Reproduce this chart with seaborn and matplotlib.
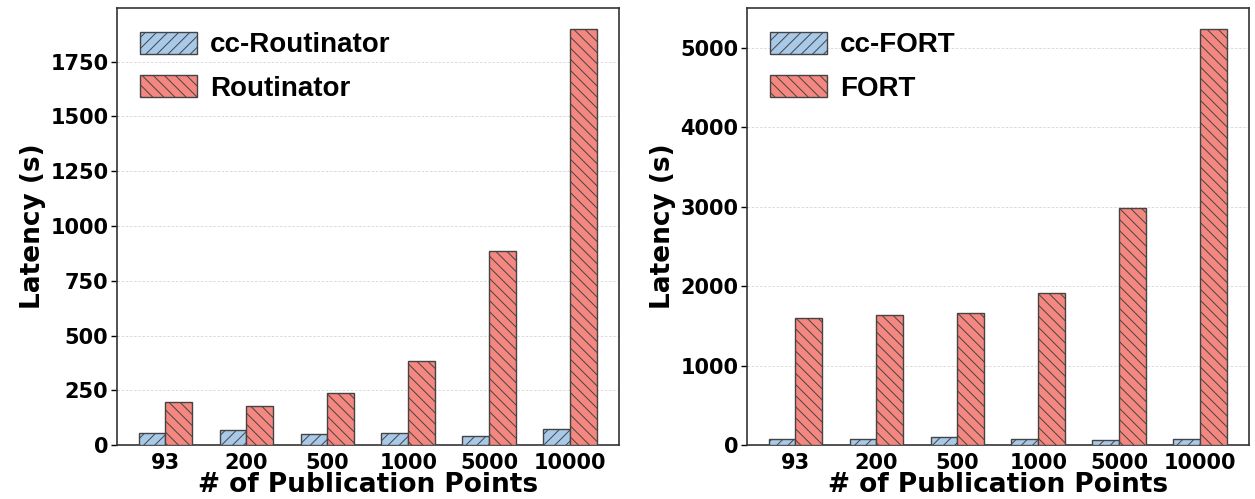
import matplotlib
matplotlib.use("Agg")
import matplotlib.pyplot as plt
import seaborn as sns
import pandas as pd
from matplotlib.patches import Patch

categories = ["93", "200", "500", "1000", "5000", "10000"]
cc_routinator = [53, 67, 50, 55, 40, 73]
routinator = [196, 178, 238, 384, 887, 1900]
cc_fort = [75, 75, 105, 75, 60, 75]
fort = [1600, 1637, 1662, 1914, 2985, 5239]

blue = "#a9c9e9"
red = "#f4877f"
edge = "#444444"

sns.set_style("ticks")
plt.rcParams["font.family"] = "sans-serif"
plt.rcParams["font.sans-serif"] = ["DejaVu Sans"]
plt.rcParams["text.color"] = "black"
plt.rcParams["axes.labelcolor"] = "black"
plt.rcParams["xtick.color"] = "black"
plt.rcParams["ytick.color"] = "black"
plt.rcParams["hatch.color"] = "#333333"
plt.rcParams["hatch.linewidth"] = 0.7

fig, axes = plt.subplots(1, 2, figsize=(12.55, 4.99), dpi=100)


def draw(ax, cc_vals, base_vals, cc_name, base_name, ticks):
    df = pd.DataFrame({
        "pp": categories * 2,
        "lat": list(cc_vals) + list(base_vals),
        "sys": [cc_name] * len(categories) + [base_name] * len(categories),
    })
    sns.barplot(data=df, x="pp", y="lat", hue="sys", order=categories,
                hue_order=[cc_name, base_name], palette=[blue, red],
                width=0.66, gap=0, saturation=1, ax=ax, legend=False,
                edgecolor=edge, linewidth=1.0, zorder=3)
    hatches = ["///"] * len(categories) + ["\\\\\\"] * len(categories)
    for p, h in zip(ax.patches, hatches):
        p.set_hatch(h)
    handles = [Patch(facecolor=blue, edgecolor=edge, hatch="///", label=cc_name),
               Patch(facecolor=red, edgecolor=edge, hatch="\\\\\\", label=base_name)]
    ax.legend(handles=handles, loc="upper left", frameon=False,
              prop={"family": "Liberation Sans", "weight": "bold", "size": 20},
              handlelength=2.05, handleheight=0.85, handletextpad=0.45,
              borderaxespad=0.45, labelspacing=0.6, borderpad=0.4)
    ax.set_ylim(0, max(base_vals) * 1.05)
    ax.set_xlim(-0.6, len(categories) - 0.4)
    ax.set_yticks(ticks)
    ax.yaxis.grid(True, linestyle=(0, (3, 2)), color="#d4d4d4", linewidth=0.6, zorder=0)
    ax.set_axisbelow(True)
    ax.set_xlabel("# of Publication Points", fontsize=19, fontweight="bold", labelpad=-1)
    ax.set_ylabel("Latency (s)", fontsize=19, fontweight="bold", labelpad=3)
    ax.tick_params(axis="both", labelsize=15, length=4, width=1, direction="out",
                   left=True, bottom=False, pad=2)
    for lab in ax.get_xticklabels() + ax.get_yticklabels():
        lab.set_fontweight("bold")
    for s in ax.spines.values():
        s.set_color("#333333")
        s.set_linewidth(1.2)


draw(axes[0], cc_routinator, routinator, "cc-Routinator", "Routinator",
     [0, 250, 500, 750, 1000, 1250, 1500, 1750])
draw(axes[1], cc_fort, fort, "cc-FORT", "FORT",
     [0, 1000, 2000, 3000, 4000, 5000])

fig.subplots_adjust(left=0.093, right=0.995, top=0.984, bottom=0.108, wspace=0.255)
fig.savefig("out.png", dpi=100)
